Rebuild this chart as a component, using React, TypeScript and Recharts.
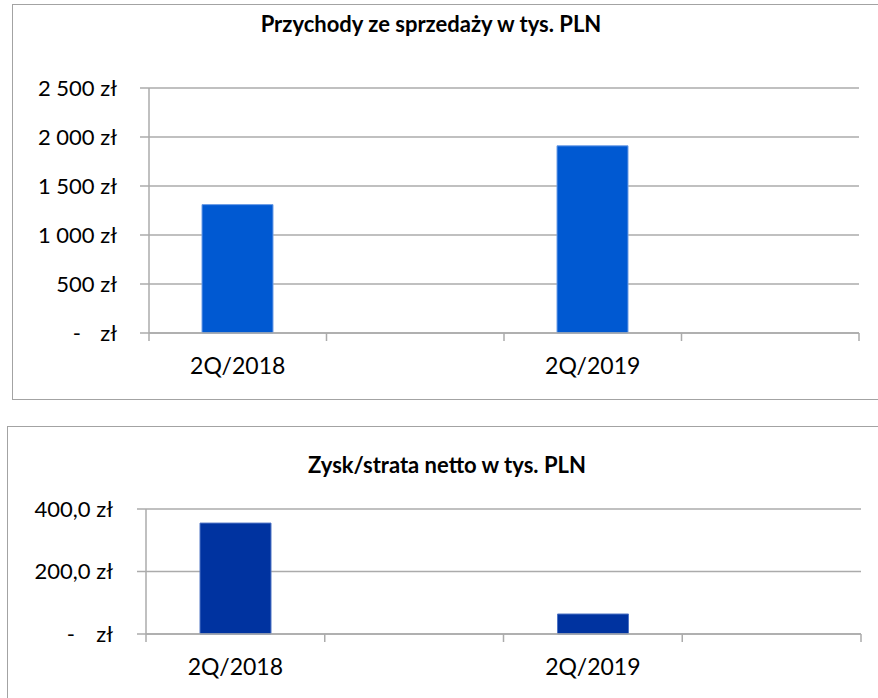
import React from "react";
import { BarChart, Bar, XAxis, YAxis, CartesianGrid } from "recharts";

const categories = ["2Q/2018", "", "2Q/2019", ""];
const revenue = [1310, null, 1910, null];
const netProfit = [355, null, 64, null];
const revenueTicks = [0, 500, 1000, 1500, 2000, 2500];
const profitTicks = [0, 200, 400];

const revenueData = categories.map((c, i) => ({ cat: c, v: revenue[i] }));
const profitData = categories.map((c, i) => ({ cat: c, v: netProfit[i] }));

const FONT = "Lato, 'Noto Sans', sans-serif";
const GRID = "#ABABAB";
const X_TICK_MARGIN = 25;
const X_TICK_LEN = 8;

const fmtRevenue = (v: number) =>
  String(v).replace(/\B(?=(\d{3})+(?!\d))/g, " ") + " zł";
const fmtProfit = (v: number) => v.toFixed(1).replace(".", ",") + " zł";

const makeYTick = (fmt: (v: number) => string, dashGap: number) => (props: any) => {
  const { x, y, payload } = props;
  const v = payload.value;
  const common = {
    y,
    dy: "0.36em",
    textAnchor: "end" as const,
    fill: "#000",
    fontSize: 22,
    fontFamily: FONT,
  };
  if (v === 0) {
    return (
      <g>
        <text {...common} x={x - dashGap}>-</text>
        <text {...common} x={x}>zł</text>
      </g>
    );
  }
  return (
    <text {...common} x={x}>
      {fmt(v)}
    </text>
  );
};

const RevenueTick = makeYTick(fmtRevenue, 36);
const ProfitTick = makeYTick(fmtProfit, 38);

// Category label plus Excel-style tick marks on the band boundaries
const XTick = (props: any) => {
  const { x, y, payload, width, visibleTicksCount, index } = props;
  const band =
    payload && payload.offset ? payload.offset * 2 : width / visibleTicksCount;
  const axisY = y - X_TICK_MARGIN;
  const left = x - band / 2;
  const right = x + band / 2;
  const isLast = index === visibleTicksCount - 1;
  return (
    <g>
      <line x1={left} x2={left} y1={axisY} y2={axisY + X_TICK_LEN} stroke={GRID} strokeWidth={1.5} />
      {isLast && (
        <line x1={right} x2={right} y1={axisY} y2={axisY + X_TICK_LEN} stroke={GRID} strokeWidth={1.5} />
      )}
      <text
        x={x}
        y={y}
        dy="0.71em"
        textAnchor="middle"
        fill="#000"
        fontSize={23}
        fontFamily={FONT}
      >
        {payload.value}
      </text>
    </g>
  );
};

const boxStyle: React.CSSProperties = {
  position: "absolute",
  border: "1.5px solid #A3A3A3",
  boxSizing: "border-box",
  background: "#fff",
};

const titleStyle: React.CSSProperties = {
  position: "absolute",
  textAlign: "center",
  fontFamily: FONT,
  fontWeight: 700,
  fontSize: 22,
  color: "#000",
  whiteSpace: "nowrap",
};

export default function App() {
  return (
    <div
      style={{
        position: "absolute",
        left: 0,
        top: 0,
        width: 878,
        height: 698,
        overflow: "hidden",
        background: "#fff",
      }}
    >
      <div style={{ ...boxStyle, left: 12, top: 4, width: 900, height: 396 }} />
      <div style={{ ...boxStyle, left: 7, top: 426, width: 900, height: 300 }} />

      <div style={{ ...titleStyle, left: 0, width: 862, top: 10 }}>
        Przychody ze sprzedaży w tys. PLN
      </div>
      <div style={{ ...titleStyle, left: 0, width: 894, top: 451 }}>
        Zysk/strata netto w tys. PLN
      </div>

      <div style={{ position: "absolute", left: 0, top: 0 }}>
        <BarChart
          width={878}
          height={400}
          data={revenueData}
          margin={{ top: 88, right: 19, left: 0, bottom: 27 }}
        >
          <CartesianGrid horizontal vertical={false} stroke={GRID} strokeWidth={1.5} />
          <XAxis
            type="category"
            dataKey="cat"
            height={40}
            axisLine={{ stroke: GRID, strokeWidth: 1.5 }}
            tickLine={false}
            tickSize={0}
            tickMargin={X_TICK_MARGIN}
            interval={0}
            tick={<XTick />}
          />
          <YAxis
            width={149}
            domain={[0, 2500]}
            ticks={revenueTicks}
            tickSize={9}
            tickMargin={23}
            axisLine={{ stroke: GRID, strokeWidth: 1.5 }}
            tickLine={{ stroke: GRID, strokeWidth: 1.5 }}
            tick={<RevenueTick />}
          />
          <Bar
            dataKey="v"
            fill="#0059D2"
            stroke="#6E9EE6"
            strokeWidth={1}
            barSize={71}
            isAnimationActive={false}
          />
        </BarChart>
      </div>

      <div style={{ position: "absolute", left: 0, top: 420 }}>
        <BarChart
          width={878}
          height={278}
          data={profitData}
          margin={{ top: 89, right: 17, left: 0, bottom: 24 }}
        >
          <CartesianGrid horizontal vertical={false} stroke={GRID} strokeWidth={1.5} />
          <XAxis
            type="category"
            dataKey="cat"
            height={40}
            axisLine={{ stroke: GRID, strokeWidth: 1.5 }}
            tickLine={false}
            tickSize={0}
            tickMargin={X_TICK_MARGIN}
            interval={0}
            tick={<XTick />}
          />
          <YAxis
            width={146}
            domain={[0, 400]}
            ticks={profitTicks}
            tickSize={9}
            tickMargin={24}
            axisLine={{ stroke: GRID, strokeWidth: 1.5 }}
            tickLine={{ stroke: GRID, strokeWidth: 1.5 }}
            tick={<ProfitTick />}
          />
          <Bar
            dataKey="v"
            fill="#0033A0"
            stroke="#4F74C4"
            strokeWidth={1}
            barSize={71}
            isAnimationActive={false}
          />
        </BarChart>
      </div>
    </div>
  );
}
